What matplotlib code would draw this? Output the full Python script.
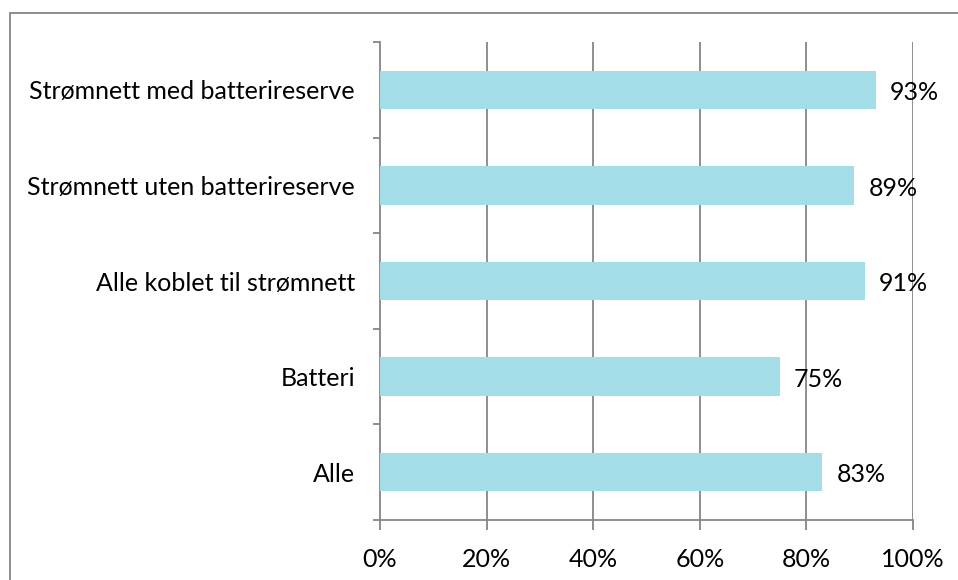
import numpy as np
import matplotlib.pyplot as plt
from matplotlib.patches import Rectangle
from matplotlib.ticker import FixedLocator

# data (bottom to top)
categories = ["Alle", "Batteri", "Alle koblet til strømnett",
              "Strømnett uten batterireserve", "Strømnett med batterireserve"]
values = [0.83, 0.75, 0.91, 0.89, 0.93]
xticks = [0, 0.2, 0.4, 0.6, 0.8, 1.0]
xlabels = ["0%", "20%", "40%", "60%", "80%", "100%"]

plt.rcParams['font.family'] = ['Lato', 'DejaVu Sans']
grey = "#868686"
bar_col = "#A3DEE8"
fs = 18

fig = plt.figure(figsize=(9.58, 5.8), dpi=100)
# outer chart frame (runs off the right and bottom edges)
fig.patches.append(Rectangle((9.5 / 958, -0.1), 1.2, (580 - 12.5) / 580 + 0.1,
                             transform=fig.transFigure, fill=False,
                             edgecolor=grey, linewidth=1.3))

ax = fig.add_axes([380 / 958, 60 / 580, 533 / 958, 478 / 580])
y = np.arange(len(categories))
ax.barh(y, values, height=0.4, color=bar_col, zorder=3)
for yi, v in zip(y, values):
    ax.annotate(f"{v:.0%}", (v, yi), xytext=(10, -2), textcoords="offset points",
                va="center", ha="left", fontsize=fs, color="black", zorder=4)

ax.set_xlim(0, 1)
ax.set_ylim(-0.5, len(categories) - 0.5)
ax.set_xticks(xticks)
ax.set_xticklabels(xlabels, fontsize=fs)
ax.tick_params(axis="x", length=7, width=1.3, color=grey, pad=13)
for xv in xticks[1:]:
    ax.axvline(xv, color=grey, linewidth=1.3, zorder=1)

# category boundaries get the tick marks, labels sit at centres
ax.yaxis.set_major_locator(FixedLocator(np.arange(-0.5, len(categories), 1)))
ax.set_yticklabels([])
ax.tick_params(axis="y", which="major", length=5, width=1.3, color=grey)
ax.yaxis.set_minor_locator(FixedLocator(y))
ax.set_yticklabels(categories, minor=True, fontsize=fs)
ax.tick_params(axis="y", which="minor", length=0, pad=18)

for s in ["top", "right"]:
    ax.spines[s].set_visible(False)
for s in ["left", "bottom"]:
    ax.spines[s].set_color(grey)
    ax.spines[s].set_linewidth(1.3)

plt.savefig("out.png", dpi=100)
